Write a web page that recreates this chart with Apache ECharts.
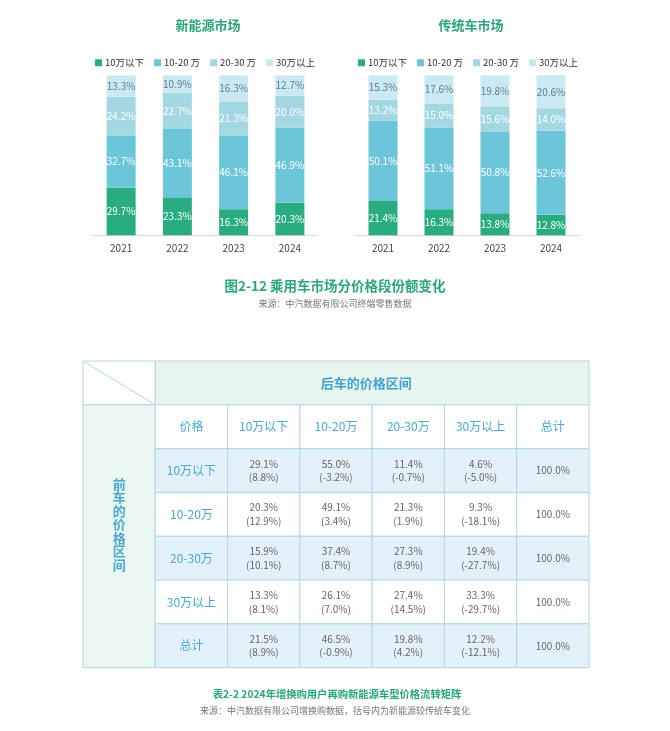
<!DOCTYPE html>
<html><head><meta charset="utf-8">
<script src="https://cdn.jsdelivr.net/npm/echarts@6/dist/echarts.min.js"></script>
<style>html,body{margin:0;padding:0;background:#fff}#c{width:670px;height:731px}</style>
</head><body><div id="c"></div>
<script>
// ---- bar chart data ----
const years = ['2021', '2022', '2023', '2024'];
const bandNames = ['10万以下', '10-20 万', '20-30 万', '30万以上'];
const nevBelow10 = [29.7, 23.3, 16.3, 20.3];
const nev10to20 = [32.7, 43.1, 46.1, 46.9];
const nev20to30 = [24.2, 22.7, 21.3, 20.0];
const nevAbove30 = [13.3, 10.9, 16.3, 12.7];
const iceBelow10 = [21.4, 16.3, 13.8, 12.8];
const ice10to20 = [50.1, 51.1, 50.8, 52.6];
const ice20to30 = [13.2, 15.0, 15.6, 14.0];
const iceAbove30 = [15.3, 17.6, 19.8, 20.6];

// ---- table data ----
const headerTitle = '后车的价格区间';
const sideTitle = '前车的价格区间';
const colLabels = ['价格', '10万以下', '10-20万', '20-30万', '30万以上', '总计'];
const rowLabels = ['10万以下', '10-20万', '20-30万', '30万以上', '总计'];
const shareMatrix = [
  [29.1, 55.0, 11.4, 4.6],
  [20.3, 49.1, 21.3, 9.3],
  [15.9, 37.4, 27.3, 19.4],
  [13.3, 26.1, 27.4, 33.3],
  [21.5, 46.5, 19.8, 12.2]
];
const diffMatrix = [
  [8.8, -3.2, -0.7, -5.0],
  [12.9, 3.4, 1.9, -18.1],
  [10.1, 8.7, 8.9, -27.7],
  [8.1, 7.0, 14.5, -29.7],
  [8.9, -0.9, 4.2, -12.1]
];
const rowTotals = [100.0, 100.0, 100.0, 100.0, 100.0];

const FONT = '"Noto Sans CJK SC", "Noto Sans", sans-serif';
const colors = ['#2aac83', '#6cc6d9', '#a3d7e2', '#cbe9f2'];
const green = '#2aa67e';

const chart = echarts.init(document.getElementById('c'), null, {renderer: 'canvas'});

function barSeries(data, idx, stack, axis) {
  return {
    type: 'bar', name: bandNames[idx], stack: stack,
    xAxisIndex: axis, yAxisIndex: axis,
    data: data, barWidth: 29,
    itemStyle: {color: colors[idx]},
    label: {
      show: true, position: 'inside', fontSize: 10, fontFamily: FONT,
      color: idx === 3 ? '#5d7f8d' : '#ffffff',
      formatter: p => p.value.toFixed(1) + '%'
    },
    emphasis: {disabled: true}
  };
}

// build table cells
const cells = [];
cells.push({c: [0, 0, 1, 1], kind: 'corner', text: ''});
cells.push({c: [1, 0, 7, 1], kind: 'header', text: headerTitle});
cells.push({c: [0, 1, 1, 7], kind: 'side', text: sideTitle.split('').join('\n')});
colLabels.forEach((t, i) => cells.push({c: [1 + i, 1, 2 + i, 2], kind: 'colhead', text: t}));
rowLabels.forEach((t, r) => {
  const band = r % 2 === 0;
  cells.push({c: [1, 2 + r, 2, 3 + r], kind: 'rowhead', band, text: t});
  shareMatrix[r].forEach((v, k) => cells.push({
    c: [2 + k, 2 + r, 3 + k, 3 + r], kind: 'data', band,
    text: v.toFixed(1) + '%\n(' + diffMatrix[r][k].toFixed(1) + '%)'
  }));
  cells.push({c: [6, 2 + r, 7, 3 + r], kind: 'data', band, text: rowTotals[r].toFixed(1) + '%'});
});

const borderColor = '#afd8e3';

function renderCell(params, api) {
  const d = cells[params.dataIndex];
  const p0 = api.coord([api.value(0), api.value(1)]);
  const p1 = api.coord([api.value(2), api.value(3)]);
  const x = p0[0], y = p0[1], w = p1[0] - p0[0], h = p1[1] - p0[1];
  let fill = '#ffffff';
  if (d.kind === 'header') fill = '#e7f5f0';
  else if (d.kind === 'side') fill = '#e9f6f1';
  else if (d.band) fill = '#e3f2fa';
  const children = [{
    type: 'rect', shape: {x, y, width: w, height: h},
    style: {fill, stroke: borderColor, lineWidth: 1}
  }];
  if (d.kind === 'corner') {
    children.push({type: 'line', shape: {x1: x, y1: y, x2: x + w, y2: y + h},
      style: {stroke: borderColor, lineWidth: 1}});
  }
  if (d.text) {
    let st = {fontFamily: FONT, fontSize: 12, fill: '#4aa8d1', fontWeight: 'normal', lineHeight: 14};
    let dx = 0, dy = 0;
    if (d.kind === 'header') { st.fontSize = 13; st.fontWeight = 'bold'; st.fill = '#3fa3cc'; dx = -6; }
    if (d.kind === 'side') { st.fontSize = 13; st.fontWeight = 'bold'; st.fill = '#4aa8d1'; st.lineHeight = 13.5; dy = -12; }
    if (d.kind === 'data') { st.fontSize = 10; st.fill = '#666666'; st.lineHeight = 13.5; }
    children.push({
      type: 'text', x: x + w / 2 + dx, y: y + h / 2 + dy,
      style: Object.assign(st, {text: d.text, align: 'center', verticalAlign: 'middle'})
    });
  }
  return {type: 'group', children};
}

function title(text, x, y, size, color, bold) {
  return {
    text, left: x, top: y, padding: 0, textAlign: 'center', textVerticalAlign: 'middle',
    textStyle: {fontFamily: FONT, fontSize: size, color, fontWeight: bold ? 'bold' : 'normal'}
  };
}

const legendBase = {
  data: bandNames, icon: 'rect', itemWidth: 7, itemHeight: 7, itemGap: 10,
  padding: 0, selectedMode: false,
  textStyle: {fontFamily: FONT, fontSize: 9.5, color: '#333', padding: [0, 0, 0, -2]}
};

const catAxis = (grid) => ({
  type: 'category', gridIndex: grid, data: years,
  axisLine: {lineStyle: {color: '#d9d9d9'}}, axisTick: {show: false},
  axisLabel: {fontFamily: FONT, fontSize: 10, color: '#444', margin: 8}
});
const valAxis = (grid) => ({type: 'value', gridIndex: grid, min: 0, max: 100, show: false});

chart.setOption({
  animation: false,
  backgroundColor: '#ffffff',
  title: [
    title('新能源市场', 208, 25, 13, green, true),
    title('传统车市场', 471, 25, 13, green, true),
    title('图2-12 乘用车市场分价格段份额变化', 335, 286, 13.5, green, true),
    title('来源：中汽数据有限公司终端零售数据', 335, 303.5, 9, '#777', false),
    title('表2-2 2024年增换购用户再购新能源车型价格流转矩阵', 337, 694, 10.3, green, true),
    title('来源：中汽数据有限公司增换购数据，括号内为新能源较传统车变化', 335, 710.5, 9, '#777', false)
  ],
  legend: [
    Object.assign({left: 95, top: 58}, legendBase),
    Object.assign({left: 358, top: 58}, legendBase)
  ],
  grid: [
    {left: 93, top: 75.3, width: 225, height: 160},
    {left: 355, top: 75.3, width: 224, height: 160},
    {left: 83, top: 361, width: 506, height: 306.7}
  ],
  xAxis: [catAxis(0), catAxis(1),
    {type: 'value', gridIndex: 2, min: 0, max: 7, show: false}],
  yAxis: [valAxis(0), valAxis(1),
    {type: 'value', gridIndex: 2, min: 0, max: 7, inverse: true, show: false}],
  series: [
    barSeries(nevBelow10, 0, 'nev', 0),
    barSeries(nev10to20, 1, 'nev', 0),
    barSeries(nev20to30, 2, 'nev', 0),
    barSeries(nevAbove30, 3, 'nev', 0),
    barSeries(iceBelow10, 0, 'ice', 1),
    barSeries(ice10to20, 1, 'ice', 1),
    barSeries(ice20to30, 2, 'ice', 1),
    barSeries(iceAbove30, 3, 'ice', 1),
    {
      type: 'custom', xAxisIndex: 2, yAxisIndex: 2,
      data: cells.map(d => d.c),
      renderItem: renderCell, silent: true
    }
  ]
});
</script></body></html>
